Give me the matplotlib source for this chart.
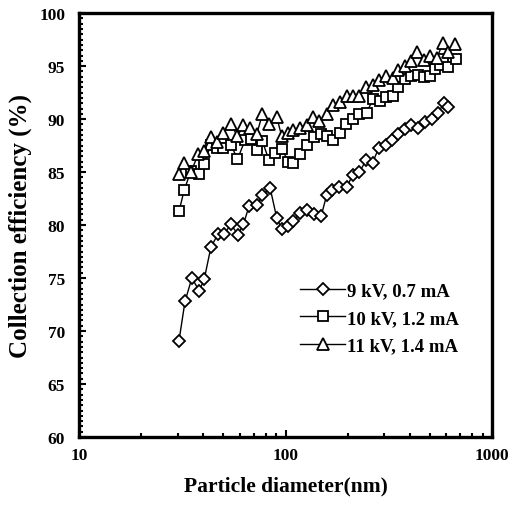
import matplotlib
matplotlib.use("Agg")
import matplotlib.pyplot as plt
from matplotlib.ticker import FixedLocator, MultipleLocator, NullFormatter

plt.rcParams['font.family'] = ['Liberation Serif', 'DejaVu Serif']

d9 = [30.5, 32.6, 35.2, 38.2, 40.4, 43.5, 47.2, 50.5, 54.4, 58.9, 62.5, 66.6, 72.6, 77.3, 84.2,
      90.6, 95.8, 103.2, 109, 117.5, 127.5, 137.3, 149, 158, 167, 182, 198, 211, 228, 245, 264,
      283, 306, 329, 351, 378, 403, 439, 473, 509, 548, 584, 613]
e9 = [69.1, 72.8, 75.0, 73.8, 74.9, 77.9, 79.2, 79.2, 80.06, 79.1, 80.06, 81.8, 81.9, 82.8, 83.5,
      80.7, 79.6, 79.9, 80.4, 81.1, 81.4, 81.0, 80.9, 82.8, 83.3, 83.6, 83.6, 84.7, 85.0, 86.1, 85.9,
      87.3, 87.6, 88.0, 88.6, 89.1, 89.4, 89.2, 89.7, 90.0, 90.6, 91.5, 91.1]

d10 = [30.5, 32.3, 34.8, 38.2, 40.4, 43.5, 46.5, 50, 54.4, 58.5, 63.6, 67.8, 72.6, 77.3, 83.2,
       89.4, 95.8, 103.2, 109, 118, 127.5, 137, 149, 158, 170, 184, 196, 212, 228, 247, 265,
       286, 308, 330, 351, 378, 407, 439, 470, 502, 530, 560, 580, 613, 670]
e10 = [81.3, 83.3, 85.1, 84.8, 85.8, 87.6, 87.3, 87.3, 87.6, 86.2, 88.0, 88.1, 87.1, 87.9, 86.1,
       86.8, 87.2, 86.0, 85.9, 86.7, 87.6, 88.3, 88.6, 88.4, 88.0, 88.7, 89.5, 90.0, 90.5, 90.6, 91.9,
       91.7, 92.1, 92.2, 93.0, 93.8, 94.1, 94.2, 94.0, 94.1, 94.7, 95.1, 95.7, 94.9, 95.7]

d11 = [30.5, 32.3, 34.8, 37.8, 40.4, 43.5, 46.5, 50, 54.4, 58.5, 62.5, 67.3, 72.6, 77.3, 83.2,
       90.6, 95.8, 103, 109, 117.5, 127.5, 136, 146, 158, 170, 184, 198, 211, 228, 245, 264,
       284, 306, 330, 351, 378, 403, 434, 468, 502, 540, 580, 613, 665]
e11 = [84.8, 85.9, 85.0, 86.7, 87.0, 88.3, 87.8, 88.7, 89.5, 88.4, 89.4, 89.2, 88.6, 90.5, 89.5,
       90.2, 88.4, 88.7, 89.0, 89.2, 89.4, 90.2, 89.8, 90.5, 91.3, 91.6, 92.2, 92.2, 92.2, 93.0, 93.2,
       93.7, 94.1, 93.9, 94.6, 95.0, 95.5, 96.3, 95.6, 96.0, 95.8, 97.2, 96.3, 97.1]

labels = ["9 kV, 0.7 mA", "10 kV, 1.2 mA", "11 kV, 1.4 mA"]
xticks = [10, 100, 1000]
yticks = [60, 65, 70, 75, 80, 85, 90, 95, 100]

fig = plt.figure(figsize=(5.11, 5.06), dpi=100)
ax = fig.add_axes([0.1546, 0.1344, 0.963 - 0.1546, 0.972 - 0.1344])

kw = dict(color='black', lw=1.0, markerfacecolor='white', markeredgecolor='black', markeredgewidth=1.3)
ax.plot(d9, e9, marker='D', markersize=6.5, label=labels[0], **kw)
ax.plot(d10, e10, marker='s', markersize=7.5, label=labels[1], **kw)
ax.plot(d11, e11, marker='^', markersize=8.5, label=labels[2], **kw)

ax.set_xscale('log')
ax.set_xlim(10, 1000)
ax.set_ylim(60, 100)
ax.xaxis.set_major_locator(FixedLocator(xticks))
ax.set_xticklabels([str(t) for t in xticks])
ax.xaxis.set_minor_locator(FixedLocator([20, 30, 40, 50, 60, 70, 80, 90, 200, 300, 400, 500, 600, 700, 800, 900]))
ax.xaxis.set_minor_formatter(NullFormatter())
ax.yaxis.set_major_locator(FixedLocator(yticks))
ax.set_yticklabels([str(t) for t in yticks])
ax.yaxis.set_minor_locator(MultipleLocator(0.5))

ax.tick_params(which='both', direction='in', top=False, right=False, width=1.5)
ax.tick_params(which='major', length=5, labelsize=12.5)
ax.tick_params(which='minor', length=3)
ax.tick_params(axis='x', which='major', pad=7)
ax.tick_params(axis='y', which='major', pad=10)
for t in ax.get_xticklabels() + ax.get_yticklabels():
    t.set_fontweight('bold')
for s in ax.spines.values():
    s.set_linewidth(2.4)

ax.set_xlabel("Particle diameter(nm)", fontsize=15.5, fontweight='bold', labelpad=9)
ax.set_ylabel("Collection efficiency (%)", fontsize=18, fontweight='bold', labelpad=5)

leg = ax.legend(loc='upper left', bbox_to_anchor=(0.535, 0.365), frameon=False,
                prop={'weight': 'bold', 'size': 13.5}, handlelength=2.4, handletextpad=0.1,
                labelspacing=0.55, borderaxespad=0.0, borderpad=0.0)

fig.savefig("out.png", dpi=100)
